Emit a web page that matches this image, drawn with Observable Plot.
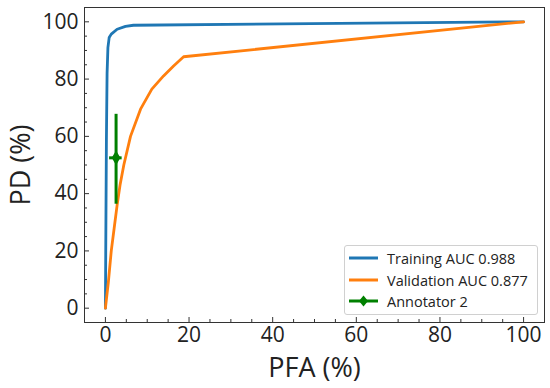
<!DOCTYPE html>
<html><head><meta charset="utf-8">
<script src="https://cdn.jsdelivr.net/npm/d3@7"></script>
<script src="https://cdn.jsdelivr.net/npm/@observablehq/plot@0.6"></script>
<style>
body{margin:0;background:#fff;}
#wrap{position:relative;width:550px;height:388px;font-family:"Open Sans",sans-serif;}
.legend{position:absolute;left:344px;top:245px;width:192px;height:68px;border:1px solid #d0d0d0;border-radius:3px;background:rgba(255,255,255,0.85);}
.item{position:absolute;left:3px;height:20px;display:flex;align-items:center;font-size:14.5px;color:#222;white-space:nowrap;}
.item svg{margin-right:8px;}
</style></head><body><div id="wrap"></div>
<script>
// Training ROC curve (PFA %, PD %)
const trainingX = [0, 0.24, 0.4, 0.6, 0.9, 1.4, 2.8, 4.8, 6.7, 100];
const trainingY = [0, 59, 82, 91, 94.5, 95.7, 97.4, 98.4, 98.8, 100];
// Validation ROC curve
const validationX = [0, 0.7, 1.4, 2.1, 2.8, 3.5, 4.4, 6, 8.4, 11.1, 13.9, 16.3, 18.7, 100];
const validationY = [0, 9, 20, 28, 36, 43, 50, 60, 69.5, 76.5, 81.1, 84.6, 87.8, 100];
// Annotator 2 point with error bars
const annotatorX = [2.55];
const annotatorY = [52.5];
const annotatorXLow = [1.0];
const annotatorXHigh = [4.0];
const annotatorYLow = [36.3];
const annotatorYHigh = [67.7];
// Ticks
const xMajor = [0, 20, 40, 60, 80, 100];
const xMinor = [5, 10, 15, 25, 30, 35, 45, 50, 55, 65, 70, 75, 85, 90, 95];
const yMajor = [0, 20, 40, 60, 80, 100];
const yMinor = [5, 10, 15, 25, 30, 35, 45, 50, 55, 65, 70, 75, 85, 90, 95];
const seriesNames = ["Training AUC 0.988", "Validation AUC 0.877", "Annotator 2"];
const seriesColors = ["#1f77b4", "#ff7f0e", "#008000"];

const training = trainingX.map((x, i) => ({x, y: trainingY[i]}));
const validation = validationX.map((x, i) => ({x, y: validationY[i]}));
const annot = annotatorX.map((x, i) => ({x, y: annotatorY[i], x1: annotatorXLow[i], x2: annotatorXHigh[i], y1: annotatorYLow[i], y2: annotatorYHigh[i]}));

const font = '"Open Sans", sans-serif';
const chart = Plot.plot({
  width: 550, height: 388,
  marginLeft: 84, marginRight: 6, marginTop: 7, marginBottom: 66,
  style: {fontFamily: font, color: "#222", background: "white"},
  x: {domain: [-5, 105]},
  y: {domain: [-5, 105]},
  marks: [
    Plot.line(training, {x: "x", y: "y", stroke: seriesColors[0], strokeWidth: 2.8}),
    Plot.line(validation, {x: "x", y: "y", stroke: seriesColors[1], strokeWidth: 2.8}),
    Plot.ruleX(annot, {x: "x", y1: "y1", y2: "y2", stroke: seriesColors[2], strokeWidth: 3}),
    Plot.ruleY(annot, {y: "y", x1: "x1", x2: "x2", stroke: seriesColors[2], strokeWidth: 3}),
    Plot.dot(annot, {x: "x", y: "y", symbol: "diamond", r: 4.5, fill: seriesColors[2], stroke: "none"}),
    Plot.frame({stroke: "#333", strokeWidth: 1}),
    // inward ticks
    Plot.axisX(xMajor, {anchor: "bottom", tickSize: 5, dy: -5, fill: "none", stroke: "#333", label: null}),
    Plot.axisX(xMinor, {anchor: "bottom", tickSize: 3, dy: -3, fill: "none", stroke: "#333", label: null}),
    Plot.axisY(yMajor, {anchor: "left", tickSize: 5, dx: 5, fill: "none", stroke: "#333", label: null}),
    Plot.axisY(yMinor, {anchor: "left", tickSize: 3, dx: 3, fill: "none", stroke: "#333", label: null}),
    // tick labels
    Plot.axisX(xMajor, {anchor: "bottom", tickSize: 0, tickPadding: 5, fontSize: 21, label: null, fill: "#222"}),
    Plot.axisY(yMajor, {anchor: "left", tickSize: 0, tickPadding: 6, fontSize: 21, label: null, fill: "#222"}),
    // axis titles
    Plot.axisX([], {anchor: "bottom", tickSize: 0, fontSize: 27, label: "PFA (%)", labelAnchor: "center", labelArrow: "none", labelOffset: 54, fill: "#222"}),
    Plot.axisY([], {anchor: "left", tickSize: 0, fontSize: 27, label: "PD (%)", labelAnchor: "center", labelArrow: "none", labelOffset: 74, fill: "#222"})
  ]
});
const wrap = document.getElementById("wrap");
wrap.appendChild(chart);

const legend = document.createElement("div");
legend.className = "legend";
const tops = [2, 24, 45];
seriesNames.forEach((name, i) => {
  const item = document.createElement("div");
  item.className = "item";
  item.style.top = tops[i] + "px";
  const sw = d3.create("svg").attr("width", 31).attr("height", 12);
  sw.append("line").attr("x1", 1).attr("x2", 30).attr("y1", 6).attr("y2", 6)
    .attr("stroke", seriesColors[i]).attr("stroke-width", 3);
  if (i === 2) {
    sw.append("path").attr("d", "M15.5,0.5L20,6L15.5,11.5L11,6Z").attr("fill", seriesColors[i]);
  }
  item.appendChild(sw.node());
  const t = document.createElement("span");
  t.textContent = name;
  item.appendChild(t);
  legend.appendChild(item);
});
wrap.appendChild(legend);
</script></body></html>
